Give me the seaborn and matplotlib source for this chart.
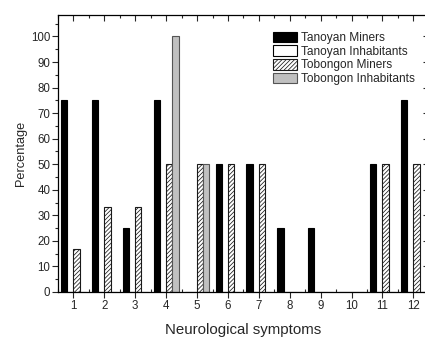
import numpy as np
import pandas as pd
import matplotlib
matplotlib.use("Agg")
import matplotlib.pyplot as plt
from matplotlib.patches import Patch
from matplotlib.ticker import MultipleLocator
import seaborn as sns

symptoms = [1, 2, 3, 4, 5, 6, 7, 8, 9, 10, 11, 12]
tanoyan_miners = [75, 75, 25, 75, 0, 50, 50, 25, 25, 0, 50, 75]
tanoyan_inhabitants = [0, 0, 0, 0, 0, 0, 0, 0, 0, 0, 0, 0]
tobongon_miners = [16.67, 33.33, 33.33, 50, 50, 50, 50, 0, 0, 0, 50, 50]
tobongon_inhabitants = [0, 0, 0, 100, 50, 0, 0, 0, 0, 0, 0, 0]
groups = ["Tanoyan Miners", "Tanoyan Inhabitants", "Tobongon Miners", "Tobongon Inhabitants"]

df = pd.DataFrame({
    "symptom": symptoms * 4,
    "group": np.repeat(groups, len(symptoms)),
    "value": tanoyan_miners + tanoyan_inhabitants + tobongon_miners + tobongon_inhabitants,
})

sns.set_style("ticks")
plt.rcParams["font.family"] = ["Liberation Sans", "DejaVu Sans"]
plt.rcParams["hatch.linewidth"] = 0.55

fig = plt.figure(figsize=(4.25, 3.38), dpi=100)
W, H = 425, 338
ax = fig.add_axes([58 / W, 1 - 292 / H, 370.8 / W, 277 / H])

sns.barplot(data=df, x="symptom", y="value", hue="group", hue_order=groups,
            native_scale=True, width=0.8, ax=ax, legend=False, errorbar=None)

styles = [
    dict(facecolor="black", edgecolor="black", hatch=None),
    dict(facecolor="white", edgecolor="black", hatch=None),
    dict(facecolor="white", edgecolor="#1a1a1a", hatch="////////"),
    dict(facecolor="#c0c0c0", edgecolor="#555555", hatch=None),
]
for cont, st in zip(ax.containers, styles):
    for p in cont.patches:
        p.set_facecolor(st["facecolor"])
        p.set_edgecolor(st["edgecolor"])
        p.set_linewidth(0.8)
        if st["hatch"]:
            p.set_hatch(st["hatch"])

ax.set_xlim(0.5, 12.5)
ax.set_ylim(0, 108.4)
ax.xaxis.set_major_locator(MultipleLocator(1))
ax.xaxis.set_minor_locator(MultipleLocator(0.5))
ax.yaxis.set_major_locator(MultipleLocator(10))
ax.yaxis.set_minor_locator(MultipleLocator(5))
ax.set_xticks(symptoms)
ax.set_xticklabels([str(s) for s in symptoms])

for s in ax.spines.values():
    s.set_visible(True)
    s.set_linewidth(0.9)
    s.set_color("black")

ax.tick_params(axis="x", which="major", direction="out", length=4, width=0.8,
               labelsize=8.3, pad=2, top=True)
ax.tick_params(axis="x", which="minor", direction="in", length=2.5, width=0.8, top=True)
ax.tick_params(axis="y", which="major", direction="out", length=4, width=0.8,
               labelsize=8.3, pad=1.5, right=True)
ax.tick_params(axis="y", which="minor", direction="out", length=2, width=0.8, right=False)
# top/right ticks inward
for t in ax.xaxis.get_major_ticks() + ax.xaxis.get_minor_ticks():
    t.tick2line.set_marker(matplotlib.lines.TICKDOWN)
for t in ax.yaxis.get_major_ticks():
    t.tick2line.set_marker(matplotlib.lines.TICKLEFT)

ax.set_xlabel("Neurological symptoms", fontsize=10.8, labelpad=7.5)
ax.set_ylabel("Percentage", fontsize=9.2, labelpad=3)

handles = [Patch(facecolor=st["facecolor"], edgecolor=st["edgecolor"],
                 hatch=st["hatch"], linewidth=0.8) for st in styles]
ax.legend(handles, groups, loc="upper left", bbox_to_anchor=(0.58, 0.94),
          frameon=False, fontsize=8.6, handlelength=2.0, handleheight=1.0,
          labelspacing=0.1, handletextpad=0.3, borderpad=0, borderaxespad=0)

fig.savefig("out.png", dpi=100)
